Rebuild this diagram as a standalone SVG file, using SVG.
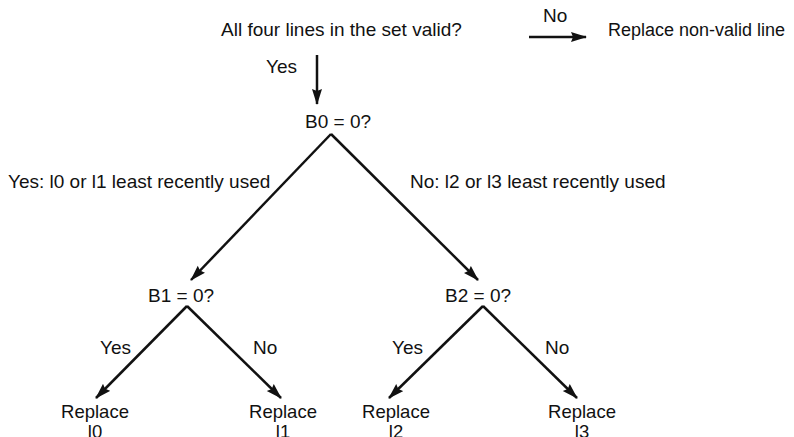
<svg xmlns="http://www.w3.org/2000/svg" width="794" height="437" viewBox="0 0 794 437">
<defs>
<marker id="ah" markerUnits="userSpaceOnUse" markerWidth="16" markerHeight="11" refX="15" refY="5.5" orient="auto">
<path d="M0,0.5 L16,5.5 L0,10.5 L2,5.5 Z" fill="#111"/>
</marker>
<style>
text{font-family:"Liberation Sans",Arial,sans-serif;font-size:19px;fill:#111}
.c{text-anchor:middle}
.r{font-size:18.5px}
.e{stroke:#111;stroke-width:2.5;fill:none;marker-end:url(#ah)}
</style>
</defs>
<rect width="794" height="437" fill="#fff"/>
<g id="connectors">
<line class="e" x1="529" y1="37" x2="586" y2="37"/>
<line class="e" x1="317" y1="55" x2="317" y2="104"/>
<line class="e" x1="331" y1="134" x2="191" y2="280"/>
<line class="e" x1="331" y1="134" x2="478" y2="280"/>
<line class="e" x1="187" y1="306" x2="96" y2="398"/>
<line class="e" x1="187" y1="306" x2="281" y2="398"/>
<line class="e" x1="483" y1="306" x2="389" y2="398"/>
<line class="e" x1="483" y1="306" x2="577" y2="398"/>
<text x="543" y="22">No</text>
<text x="266" y="73">Yes</text>
<text x="8" y="188">Yes: l0 or l1 least recently used</text>
<text x="410" y="188">No: l2 or l3 least recently used</text>
<text x="100" y="354">Yes</text>
<text x="253" y="354">No</text>
<text x="392" y="354">Yes</text>
<text x="545" y="354">No</text>
</g>
<g id="n-valid"><text x="221" y="36">All four lines in the set valid?</text></g>
<g id="n-replace-nonvalid"><text x="608" y="36" style="font-size:18px">Replace non-valid line</text></g>
<g id="n-b0"><text class="c" x="338" y="128">B0 = 0?</text></g>
<g id="n-b1"><text class="c" x="181" y="302">B1 = 0?</text></g>
<g id="n-b2"><text class="c" x="478" y="302">B2 = 0?</text></g>
<g id="n-l0"><text class="c r" x="95" y="418">Replace</text><text class="c r" x="95" y="438">l0</text></g>
<g id="n-l1"><text class="c r" x="283" y="418">Replace</text><text class="c r" x="283" y="438">l1</text></g>
<g id="n-l2"><text class="c r" x="396" y="418">Replace</text><text class="c r" x="396" y="438">l2</text></g>
<g id="n-l3"><text class="c r" x="582" y="418">Replace</text><text class="c r" x="582" y="438">l3</text></g>
</svg>
